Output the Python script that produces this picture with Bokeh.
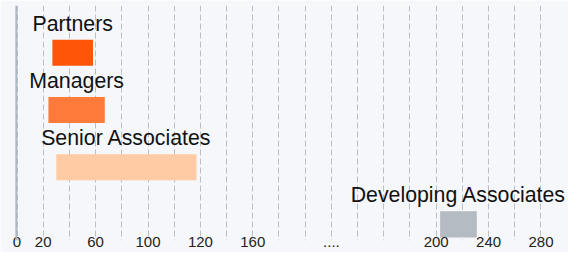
from bokeh.plotting import figure
from bokeh.models import ColumnDataSource, Range1d, FixedTicker, Span
from bokeh.core.properties import value
from bokeh.embed import file_html
from bokeh.resources import INLINE

# ---- data ----
categories = ["Partners", "Managers", "Senior Associates", "Developing Associates"]
starts = [27, 24, 30, 323]
ends = [58, 67, 137, 351]
colors = ["#FF5508", "#FF7B3B", "#FFCBA4", "#B5BBC3"]

tick_positions = [0, 20, 40, 60, 80, 100, 120, 140, 160, 180, 200, 220, 240,
                  260, 280, 300, 320, 340, 360, 380, 400]
tick_labels = {0: "0", 20: "20", 60: "60", 100: "100", 140: "120", 180: "160",
               240: "....", 320: "200", 360: "240", 400: "280"}

BG = "#F5F7FA"
FONT = "Liberation Sans"

idx = list(range(len(categories)))
src = ColumnDataSource(dict(
    cat=categories,
    y=idx,
    left=starts,
    right=ends,
    mid=[(a + b) / 2 for a, b in zip(starts, ends)],
    color=colors,
))

p = figure(width=568, height=252, output_backend="svg", toolbar_location=None,
           x_range=Range1d(-12.6, 421.0), y_range=Range1d(3.281, -0.8246),
           min_border_left=0, min_border_right=0, min_border_top=5,
           min_border_bottom=12)
p.background_fill_color = BG
p.border_fill_color = BG
p.outline_line_color = None

p.hbar(y="y", left="left", right="right", height=0.456, fill_color="color",
       line_color=None, source=src)
p.text(x="mid", y="y", text="cat", y_offset=-29, text_align="center",
       text_baseline="middle", text_font=value(FONT), text_font_size="21.3px",
       text_color="#111111", source=src)

p.add_layout(Span(location=-0.5, dimension="height", line_color="#AEB6C4",
                  line_width=2))

p.yaxis.visible = False
p.ygrid.visible = False

xa = p.xaxis[0]
xa.ticker = FixedTicker(ticks=tick_positions)
xa.major_label_overrides = {t: tick_labels.get(t, "") for t in tick_positions}
xa.axis_line_color = None
xa.major_tick_line_color = None
xa.minor_tick_line_color = None
xa.major_tick_out = 0
xa.major_tick_in = 0
xa.minor_tick_out = 0
xa.minor_tick_in = 0
xa.major_label_standoff = -4
xa.major_label_text_font = FONT
xa.major_label_text_font_size = "15px"
xa.major_label_text_color = "#222222"

p.xgrid.grid_line_color = "#B8BFC9"
p.xgrid.grid_line_dash = "6 3"
p.xgrid.grid_line_width = 1

open("out.html", "w").write(file_html(p, INLINE))
